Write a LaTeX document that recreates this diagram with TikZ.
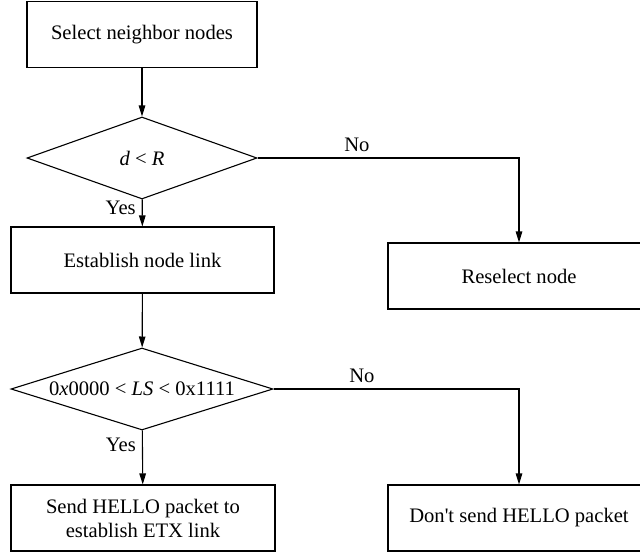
\documentclass[tikz,border=0pt]{standalone}
\usepackage{fontspec}
\setmainfont{Liberation Serif}
\usetikzlibrary{arrows.meta,shapes.geometric}
\tikzset{
  flowbox/.style={draw,line width=1.1pt,align=center,inner sep=2pt,minimum height=66pt},
  decision/.style={draw,diamond,line width=1.1pt,inner sep=0pt,aspect=3,minimum height=82pt},
  flow/.style={-{Triangle[length=11pt,width=6.5pt]},line width=1.1pt},
  lbl/.style={inner sep=6pt},
}

\begin{document}
\begin{tikzpicture}[x=1pt,y=-1pt,font=\fontsize{20.6}{24}\selectfont]
  \useasboundingbox (0,0) rectangle (640,555);
  % left column
  \node[flowbox,minimum width=230pt](sel) at (142,34.5){Select neighbor nodes};
  \node[decision,minimum width=230pt](rng) at (142,158){\textit{d} < \textit{R}};
  \node[flowbox,minimum width=263pt](est) at (142.5,260){Establish node link};
  \node[decision,minimum width=262pt](lsq) at (142,389){0\textit{x}0000 < \textit{LS} < 0x1111};
  \node[flowbox,minimum width=264pt](hello) at (143,518){Send HELLO packet to\\establish ETX link};
  % right column
  \node[flowbox,minimum width=262pt](resel) at (519,276){Reselect node};
  \node[flowbox,minimum width=262pt](nohello) at (519,518){Don\textquotesingle t send HELLO packet};
  \draw[flow] (sel)--(rng);
  \draw[flow] (rng)--node[lbl,left,pos=0.32]{Yes}(est);
  \draw[flow] (est)--(lsq);
  \draw[flow] (lsq)--node[lbl,left,pos=0.27]{Yes}(hello);
  \draw[flow] (rng.east)-|node[lbl,above,pos=0.19]{No}(resel.north);
  \draw[flow] (lsq.east)-|node[lbl,above,pos=0.18]{No}(nohello.north);
\end{tikzpicture}
\end{document}
